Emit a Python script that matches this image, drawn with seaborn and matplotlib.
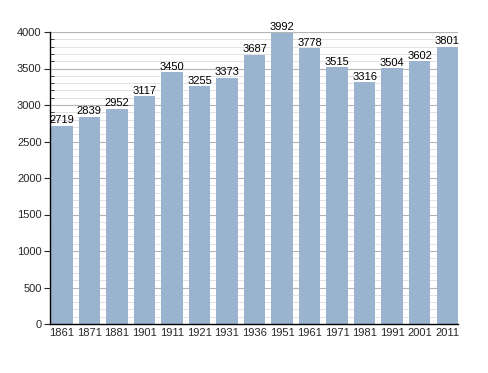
import matplotlib
matplotlib.use("Agg")
import matplotlib.pyplot as plt
import seaborn as sns
import pandas as pd
from matplotlib.ticker import MultipleLocator

years = ["1861", "1871", "1881", "1901", "1911", "1921", "1931", "1936",
         "1951", "1961", "1971", "1981", "1991", "2001", "2011"]
population = [2719, 2839, 2952, 3117, 3450, 3255, 3373, 3687,
              3992, 3778, 3515, 3316, 3504, 3602, 3801]

df = pd.DataFrame({"year": years, "pop": population})

sns.set_style("white")
plt.rcParams["font.family"] = ["Liberation Sans", "DejaVu Sans"]

fig = plt.figure(figsize=(4.88, 3.73), dpi=100)
ax = fig.add_axes([50 / 488, 49 / 373, 408 / 488, 292 / 373])

ax.yaxis.set_major_locator(MultipleLocator(500))
ax.yaxis.set_minor_locator(MultipleLocator(100))
ax.grid(which="minor", axis="y", color="#e2e2e2", linewidth=0.7, zorder=0)
ax.grid(which="major", axis="y", color="#b4b4b4", linewidth=0.8, zorder=0)
ax.set_axisbelow(True)

sns.barplot(data=df, x="year", y="pop", color="#9ab3cf", saturation=1,
            width=0.78, linewidth=0, edgecolor="none", ax=ax, zorder=2)

for i, v in enumerate(population):
    ax.text(i, v + 5, str(v), ha="center", va="bottom", fontsize=8,
            color="black", zorder=3)

ax.set_ylim(0, 4000)
ax.set_xlim(-0.43, 14.39)
ax.set_xlabel("")
ax.set_ylabel("")

for s in ["top", "right"]:
    ax.spines[s].set_visible(False)
ax.spines["left"].set_color("black")
ax.spines["bottom"].set_color("black")
ax.spines["left"].set_linewidth(1)
ax.spines["bottom"].set_linewidth(1)

ax.tick_params(axis="y", which="major", direction="out", length=4, width=0.8,
               labelsize=8, pad=2, left=True)
ax.tick_params(axis="y", which="minor", direction="in", length=3, width=0.6,
               left=True)
ax.tick_params(axis="x", which="both", length=0, labelsize=8, pad=3)

fig.savefig("out.png", dpi=100)
